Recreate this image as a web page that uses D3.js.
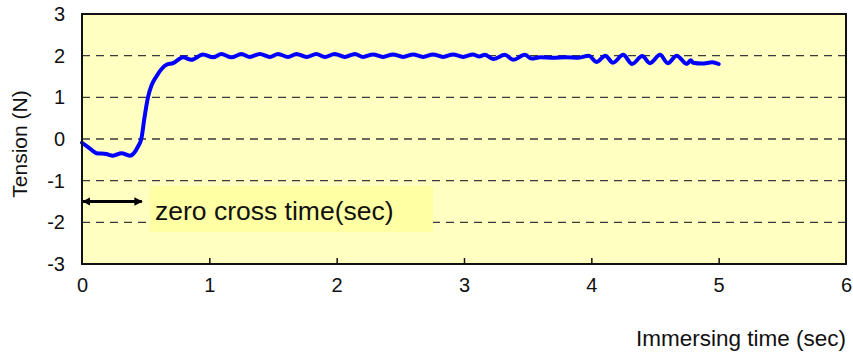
<!DOCTYPE html>
<html>
<head>
<meta charset="utf-8">
<script src="https://cdn.jsdelivr.net/npm/d3@7"></script>
<style>
  html, body { margin: 0; padding: 0; background: #ffffff; }
  svg { display: block; }
  text { font-family: "Liberation Sans", Arial, sans-serif; fill: #111; }
</style>
</head>
<body>
<svg id="chart" width="853" height="354"></svg>
<script>
// Immersion time (s) and measured tension (N)
const timeSec = [0, 0.05, 0.114, 0.19, 0.243, 0.31, 0.375, 0.44, 0.467, 0.49,
  0.518, 0.545, 0.584, 0.625, 0.663, 0.715, 0.794, 0.86, 0.95, 1.029,
  1.095, 1.174, 1.252, 1.317, 1.396, 1.475, 1.54, 1.618, 1.684, 1.763,
  1.841, 1.907, 1.985, 2.064, 2.143, 2.207, 2.286, 2.364, 2.443, 2.522,
  2.6, 2.679, 2.757, 2.836, 2.914, 2.993, 3.071, 3.12, 3.163, 3.229,
  3.321, 3.386, 3.478, 3.53, 3.6, 3.7, 3.8, 3.9, 3.98, 4.04,
  4.11, 4.17, 4.25, 4.32, 4.40, 4.46, 4.54, 4.60, 4.67, 4.75,
  4.78, 4.80, 4.87, 4.95, 5.0];
const tensionN = [-0.09, -0.2, -0.34, -0.36, -0.40, -0.34, -0.40, -0.18, 0.02, 0.5,
  1.0, 1.28, 1.5, 1.68, 1.78, 1.82, 1.96, 1.90, 2.03, 1.96,
  2.04, 1.96, 2.04, 1.97, 2.04, 1.97, 2.04, 1.97, 2.04, 1.97,
  2.04, 1.97, 2.04, 1.97, 2.04, 1.97, 2.03, 1.97, 2.03, 1.97,
  2.03, 1.97, 2.03, 1.97, 2.03, 1.97, 2.03, 1.98, 2.02, 1.92,
  2.02, 1.90, 2.02, 1.93, 1.96, 1.95, 1.96, 1.95, 2.0, 1.85,
  2.0, 1.83, 2.02, 1.80, 1.99, 1.82, 2.02, 1.82, 2.0, 1.80,
  1.89, 1.83, 1.81, 1.84, 1.80];

const xTicks = [0, 1, 2, 3, 4, 5, 6];
const yTicks = [-3, -2, -1, 0, 1, 2, 3];
const gridValues = [-2, -1, 0, 1, 2];

// Zero-cross marker: arrow from t=0 to the crossing time, drawn at this tension level
const zeroCrossTime = 0.47;
const arrowLevel = -1.5;
const noteText = "zero cross time(sec)";
const xTitle = "Immersing time (sec)";
const yTitle = "Tension (N)";

const svg = d3.select("#chart");
const plot = { left: 82, right: 846, top: 14, bottom: 264 };

const x = d3.scaleLinear().domain([0, 6]).range([plot.left, plot.right]);
const y = d3.scaleLinear().domain([-3, 3]).range([plot.bottom, plot.top]);

// Plain hyphen-minus labels
const intLabel = d => String(d);

// Plot background
svg.append("rect")
  .attr("x", plot.left).attr("y", plot.top)
  .attr("width", plot.right - plot.left).attr("height", plot.bottom - plot.top)
  .attr("fill", "#ffffc2");

// Dashed horizontal gridlines
svg.append("g").selectAll("line").data(gridValues).join("line")
  .attr("x1", plot.left).attr("x2", plot.right)
  .attr("y1", d => y(d)).attr("y2", d => y(d))
  .attr("stroke", "#3a3a3a").attr("stroke-width", 1.3)
  .attr("stroke-dasharray", "8,6");

// Annotation box (covers the gridline beneath it)
const noteG = svg.append("g");
noteG.append("rect")
  .attr("x", 150).attr("y", 186).attr("width", 283).attr("height", 46)
  .attr("fill", "#ffffa4");
noteG.append("text")
  .attr("x", 155).attr("y", 220)
  .attr("font-size", 26.5)
  .text(noteText);

// Tension curve
const pts = timeSec.map((t, i) => [t, tensionN[i]]);
svg.append("path")
  .datum(pts)
  .attr("fill", "none")
  .attr("stroke", "#0000ff")
  .attr("stroke-width", 4)
  .attr("stroke-linejoin", "round")
  .attr("stroke-linecap", "round")
  .attr("d", d3.line().x(d => x(d[0])).y(d => y(d[1])).curve(d3.curveMonotoneX));

// Double-headed arrow marking zero-cross time
const defs = svg.append("defs");
defs.append("marker")
  .attr("id", "arrowHead")
  .attr("viewBox", "0 0 10 10")
  .attr("refX", 9).attr("refY", 5)
  .attr("markerWidth", 2.6).attr("markerHeight", 2.6)
  .attr("orient", "auto-start-reverse")
  .append("path").attr("d", "M0,0 L10,5 L0,10 z").attr("fill", "#000");
svg.append("line")
  .attr("x1", x(0) + 1).attr("x2", x(zeroCrossTime))
  .attr("y1", y(arrowLevel)).attr("y2", y(arrowLevel))
  .attr("stroke", "#000").attr("stroke-width", 3.2)
  .attr("marker-start", "url(#arrowHead)")
  .attr("marker-end", "url(#arrowHead)");

// Frame
svg.append("rect")
  .attr("x", plot.left).attr("y", plot.top)
  .attr("width", plot.right - plot.left).attr("height", plot.bottom - plot.top)
  .attr("fill", "none").attr("stroke", "#111").attr("stroke-width", 2);

// X axis: inward ticks at the interior positions
const xAxis = d3.axisBottom(x).tickValues(xTicks).tickSizeInner(-6).tickSizeOuter(0)
  .tickPadding(14).tickFormat(intLabel);
const gx = svg.append("g").attr("transform", `translate(0,${plot.bottom})`).call(xAxis);
gx.select(".domain").remove();
gx.selectAll(".tick line")
  .attr("stroke", "#111").attr("stroke-width", 1.5)
  .attr("opacity", d => (d === 0 || d === 6) ? 0 : 1);
gx.selectAll(".tick text")
  .attr("font-size", 20).attr("fill", "#111")
  .attr("font-family", "Liberation Sans, Arial, sans-serif");

// Y axis: labels only
const yAxis = d3.axisLeft(y).tickValues(yTicks).tickSize(0).tickPadding(17)
  .tickFormat(intLabel);
const gy = svg.append("g").attr("transform", `translate(${plot.left},0)`).call(yAxis);
gy.select(".domain").remove();
gy.selectAll(".tick text")
  .attr("font-size", 20).attr("fill", "#111")
  .attr("font-family", "Liberation Sans, Arial, sans-serif");

// Axis titles
svg.append("text")
  .attr("x", 846).attr("y", 346)
  .attr("text-anchor", "end")
  .attr("font-size", 22.5)
  .text(xTitle);
svg.append("text")
  .attr("transform", "translate(27,144) rotate(-90)")
  .attr("text-anchor", "middle")
  .attr("font-size", 21)
  .text(yTitle);
</script>
</body>
</html>
